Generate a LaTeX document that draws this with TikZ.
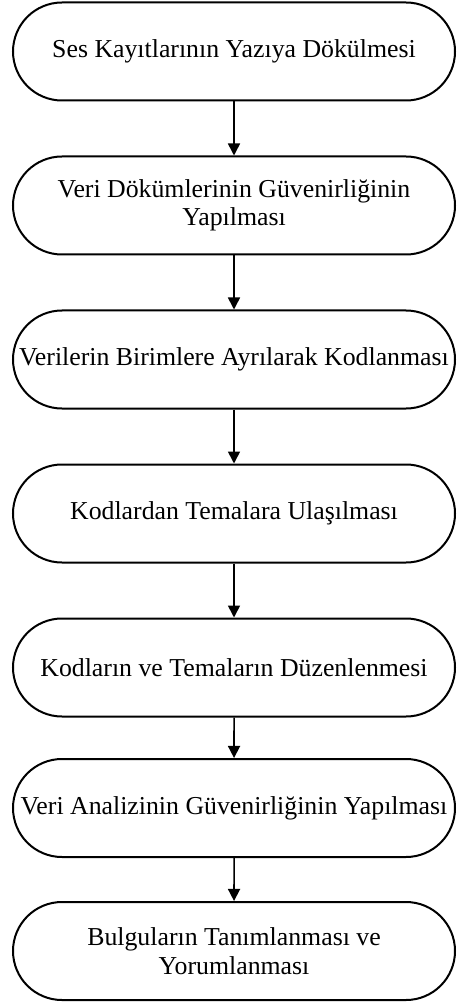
\documentclass[tikz,border=0pt]{standalone}
\usepackage{fontspec}
\setmainfont{Liberation Serif}
\usetikzlibrary{shapes.misc, arrows.meta}

\begin{document}
\begin{tikzpicture}[x=0.5pt, y=-0.5pt,
  stage/.style={draw, line width=1pt, rounded rectangle, minimum width=221pt, minimum height=49pt, inner sep=0pt, align=center, font=\fontsize{12.9}{14.2}\selectfont},
  flow/.style={-{Triangle[width=6pt,length=6pt]}, line width=0.8pt}]
\useasboundingbox (0,0) rectangle (456,1005);
% Steps
\node[stage] (ses) at (234,51.5) {Ses Kayıtlarının Yazıya Dökülmesi};
\node[stage] (dokum) at (234,205.5) {Veri Dökümlerinin Güvenirliğinin\\Yapılması};
\node[stage] (birim) at (234,359.5) {Verilerin Birimlere Ayrılarak Kodlanması};
\node[stage] (tema) at (234,513.5) {Kodlardan Temalara Ulaşılması};
\node[stage] (duzen) at (234,667.5) {Kodların ve Temaların Düzenlenmesi};
\node[stage] (analiz) at (234,808) {Veri Analizinin Güvenirliğinin Yapılması};
\node[stage] (bulgu) at (234,951) {Bulguların Tanımlanması ve\\Yorumlanması};
% Arrows
\draw[flow] (ses) -- (dokum);
\draw[flow] (dokum) -- (birim);
\draw[flow] (birim) -- (tema);
\draw[flow] (tema) -- (duzen);
\draw[flow] (duzen) -- (analiz);
\draw[flow] (analiz) -- (bulgu);
\end{tikzpicture}
\end{document}
